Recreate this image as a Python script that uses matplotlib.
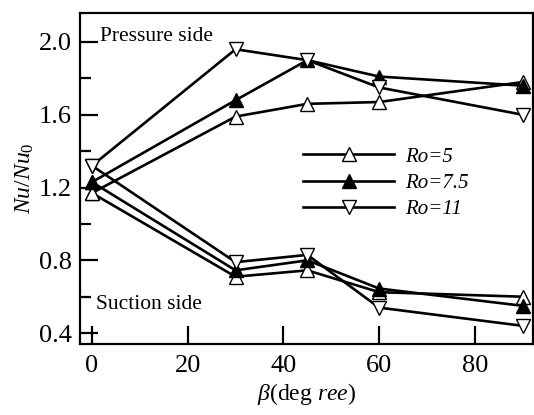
import numpy as np
import matplotlib
matplotlib.use('Agg')
import matplotlib.pyplot as plt
from matplotlib.ticker import MultipleLocator, FormatStrFormatter

plt.rcParams['font.family'] = ['Liberation Serif', 'DejaVu Serif']
plt.rcParams['mathtext.fontset'] = 'custom'
plt.rcParams['mathtext.rm'] = 'Liberation Serif'
plt.rcParams['mathtext.it'] = 'Liberation Serif:italic'

# rotation angle in degrees
beta = [0, 30, 45, 60, 90]

# pressure side Nu/Nu0
p_ro5 = [1.17, 1.59, 1.66, 1.67, 1.78]
p_ro75 = [1.23, 1.68, 1.90, 1.81, 1.76]
p_ro11 = [1.32, 1.96, 1.90, 1.75, 1.60]

# suction side Nu/Nu0
s_ro5 = [1.17, 0.71, 0.745, 0.625, 0.60]
s_ro75 = [1.23, 0.745, 0.80, 0.645, 0.55]
s_ro11 = [1.32, 0.79, 0.83, 0.54, 0.44]

labels = ['Ro=5', 'Ro=7.5', 'Ro=11']

fig = plt.figure(figsize=(5.34, 4.15), dpi=100)
ax = fig.add_axes([0.1498, 0.171, 0.848, 0.798])

kw = dict(c='k', lw=1.9, ms=10, mec='k', mew=1.0)
l1, = ax.plot(beta, p_ro5, marker='^', mfc='white', **kw)
l2, = ax.plot(beta, p_ro75, marker='^', mfc='k', **kw)
l3, = ax.plot(beta, p_ro11, marker='v', mfc='white', **kw)
ax.plot(beta, s_ro5, marker='^', mfc='white', **kw)
ax.plot(beta, s_ro75, marker='^', mfc='k', **kw)
ax.plot(beta, s_ro11, marker='v', mfc='white', **kw)

ax.set_xlim(-2.5, 92.1)
ax.set_ylim(0.34, 2.16)
ax.xaxis.set_major_locator(MultipleLocator(20))
ax.yaxis.set_major_locator(MultipleLocator(0.4))
ax.yaxis.set_minor_locator(MultipleLocator(0.2))
ax.yaxis.set_major_formatter(FormatStrFormatter('%.1f'))
ax.tick_params(which='major', direction='in', length=13, width=1.6,
               labelsize=19, pad=6)
ax.tick_params(which='minor', direction='in', length=8, width=1.6)
ax.tick_params(axis='x', pad=8)
for s in ax.spines.values():
    s.set_linewidth(1.6)

ax.text(0.044, 0.93, 'Pressure side', transform=ax.transAxes, fontsize=15.5,
        va='center', ha='left')
ax.text(0.035, 0.118, 'Suction side', transform=ax.transAxes, fontsize=15.5,
        va='center', ha='left')

leg = ax.legend([l1, l2, l3], labels, loc='upper left',
                bbox_to_anchor=(0.455, 0.645), frameon=False, handlelength=4.4,
                labelspacing=0.32, handletextpad=0.5, borderpad=0.3,
                prop={'style': 'italic', 'size': 15})

ax.set_xlabel(r'$\it{\beta}$(deg $\it{ree}$)', fontsize=17, labelpad=3)
ax.set_ylabel(r'$\it{Nu/Nu_0}$', fontsize=17, labelpad=2)

fig.savefig('out.png', dpi=100)
